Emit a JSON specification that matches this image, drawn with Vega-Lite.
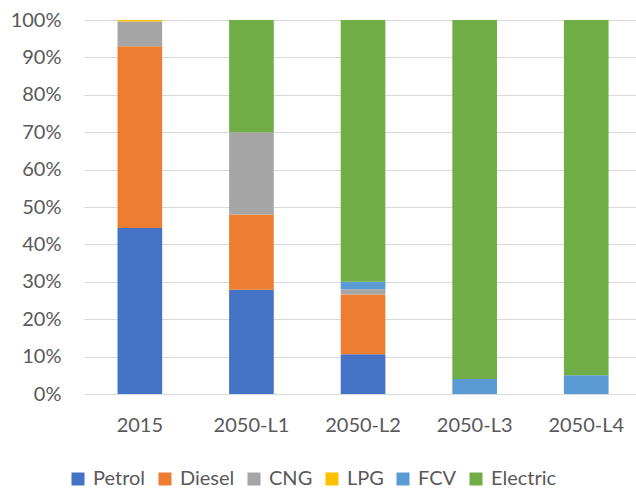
{
  "$schema": "https://vega.github.io/schema/vega-lite/v6.json",
  "width": 552,
  "height": 374,
  "autosize": "none",
  "padding": {"left": 84, "top": 20, "right": 0, "bottom": 94},
  "background": "white",
  "config": {"view": {"stroke": null}, "font": "Lato"},
  "data": {
    "values": [
      {"scenario": "2015", "fuel": "Petrol", "k": 1, "share": 44.4},
      {"scenario": "2015", "fuel": "Diesel", "k": 2, "share": 48.6},
      {"scenario": "2015", "fuel": "CNG", "k": 3, "share": 6.6},
      {"scenario": "2015", "fuel": "LPG", "k": 4, "share": 0.4},
      {"scenario": "2015", "fuel": "FCV", "k": 5, "share": 0},
      {"scenario": "2015", "fuel": "Electric", "k": 6, "share": 0},
      {"scenario": "2050-L1", "fuel": "Petrol", "k": 1, "share": 27.9},
      {"scenario": "2050-L1", "fuel": "Diesel", "k": 2, "share": 20.1},
      {"scenario": "2050-L1", "fuel": "CNG", "k": 3, "share": 22},
      {"scenario": "2050-L1", "fuel": "LPG", "k": 4, "share": 0},
      {"scenario": "2050-L1", "fuel": "FCV", "k": 5, "share": 0},
      {"scenario": "2050-L1", "fuel": "Electric", "k": 6, "share": 30},
      {"scenario": "2050-L2", "fuel": "Petrol", "k": 1, "share": 10.6},
      {"scenario": "2050-L2", "fuel": "Diesel", "k": 2, "share": 16},
      {"scenario": "2050-L2", "fuel": "CNG", "k": 3, "share": 1.4},
      {"scenario": "2050-L2", "fuel": "LPG", "k": 4, "share": 0},
      {"scenario": "2050-L2", "fuel": "FCV", "k": 5, "share": 2},
      {"scenario": "2050-L2", "fuel": "Electric", "k": 6, "share": 70},
      {"scenario": "2050-L3", "fuel": "Petrol", "k": 1, "share": 0},
      {"scenario": "2050-L3", "fuel": "Diesel", "k": 2, "share": 0},
      {"scenario": "2050-L3", "fuel": "CNG", "k": 3, "share": 0},
      {"scenario": "2050-L3", "fuel": "LPG", "k": 4, "share": 0},
      {"scenario": "2050-L3", "fuel": "FCV", "k": 5, "share": 4},
      {"scenario": "2050-L3", "fuel": "Electric", "k": 6, "share": 96},
      {"scenario": "2050-L4", "fuel": "Petrol", "k": 1, "share": 0},
      {"scenario": "2050-L4", "fuel": "Diesel", "k": 2, "share": 0},
      {"scenario": "2050-L4", "fuel": "CNG", "k": 3, "share": 0},
      {"scenario": "2050-L4", "fuel": "LPG", "k": 4, "share": 0},
      {"scenario": "2050-L4", "fuel": "FCV", "k": 5, "share": 5},
      {"scenario": "2050-L4", "fuel": "Electric", "k": 6, "share": 95}
    ]
  },
  "mark": {"type": "bar"},
  "encoding": {
    "x": {
      "field": "scenario",
      "type": "nominal",
      "sort": ["2015", "2050-L1", "2050-L2", "2050-L3", "2050-L4"],
      "scale": {"paddingInner": 0.6, "paddingOuter": 0.273, "align": 0.55},
      "axis": {
        "title": null,
        "labelAngle": 0,
        "labelFontSize": 20,
        "labelColor": "#595959",
        "ticks": false,
        "domain": false,
        "labelPadding": 21
      }
    },
    "y": {
      "field": "share",
      "type": "quantitative",
      "stack": "normalize",
      "scale": {"domain": [0, 1]},
      "axis": {
        "title": null,
        "format": ".0%",
        "values": [0, 0.1, 0.2, 0.3, 0.4, 0.5, 0.6, 0.7, 0.8, 0.9, 1],
        "gridColor": "#d9d9d9",
        "gridWidth": 1.2,
        "domain": false,
        "ticks": false,
        "labelPadding": 23,
        "labelFontSize": 20,
        "labelColor": "#595959"
      }
    },
    "color": {
      "field": "fuel",
      "type": "nominal",
      "sort": ["Petrol", "Diesel", "CNG", "LPG", "FCV", "Electric"],
      "scale": {
        "domain": ["Petrol", "Diesel", "CNG", "LPG", "FCV", "Electric"],
        "range": ["#4472C4", "#ED7D31", "#A5A5A5", "#FFC000", "#5B9BD5", "#70AD47"]
      },
      "legend": {
        "orient": "none",
        "legendX": -16,
        "legendY": 449,
        "direction": "horizontal",
        "title": null,
        "symbolType": "square",
        "symbolSize": 169,
        "symbolStrokeWidth": 0,
        "labelFontSize": 20,
        "labelColor": "#595959",
        "labelOffset": 5,
        "columnPadding": 9
      }
    },
    "order": {"field": "k", "type": "quantitative"}
  }
}
